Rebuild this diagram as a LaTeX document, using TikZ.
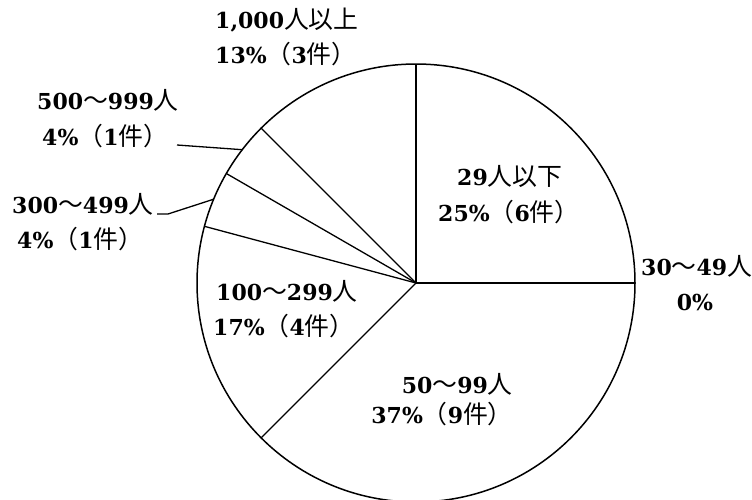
\documentclass[tikz,border=0pt]{standalone}
\usepackage{fontspec}
\usetikzlibrary{calc}
\setmainfont{DejaVu Serif}
\newfontfamily\cjkfont{Noto Sans CJK JP}[Scale=1.13]
\newcommand{\jpn}[1]{{\cjkfont\mdseries #1}}
\begin{document}
\begin{tikzpicture}[x=1pt,y=-1pt,
  lbl/.style={inner sep=0pt,font=\fontsize{22}{26}\selectfont\bfseries},
  rim/.style={line width=1.5pt},
  spoke/.style={line width=1.3pt},
  leader/.style={line width=1.3pt}]
\useasboundingbox (0,0) rectangle (752,499);
\coordinate (c) at (416,283);
\draw[rim] (c) circle[radius=219pt];
% slice boundaries
\coordinate (b90) at ($(c)+(90:219pt)$);
\coordinate (b0) at ($(c)+(0:219pt)$);
\coordinate (b225) at ($(c)+(225:219pt)$);
\coordinate (b165) at ($(c)+(165:219pt)$);
\coordinate (b150) at ($(c)+(150:219pt)$);
\coordinate (b135) at ($(c)+(135:219pt)$);
\foreach \p in {b90,b0,b225,b165,b150,b135} \draw[spoke] (c) -- (\p);
% leaders
\coordinate (p5) at ($(c)+(142.5:219pt)$);
\coordinate (p3) at ($(c)+(157.5:219pt)$);
\coordinate (q5) at (177,145);
\coordinate (q3) at (157,214);
\coordinate (k3) at (168,214);
\draw[leader] (q5) -- (p5);
\draw[leader] (q3) -- (k3) -- (p3);
% labels
\node[lbl,anchor=base west] (l1a) at (215,28) {1,000\jpn{人以上}};
\node[lbl,anchor=base west] (l1b) at (215,63) {13\%\jpn{（}3\jpn{件）}};
\node[lbl,anchor=base west] (l2a) at (37,109) {500\jpn{～}999\jpn{人}};
\node[lbl,anchor=base west] (l2b) at (42,145) {4\%\jpn{（}1\jpn{件）}};
\node[lbl,anchor=base west] (l3a) at (12,213) {300\jpn{～}499\jpn{人}};
\node[lbl,anchor=base west] (l3b) at (17,248) {4\%\jpn{（}1\jpn{件）}};
\node[lbl,anchor=base west] (l4a) at (457,185) {29\jpn{人以下}};
\node[lbl,anchor=base west] (l4b) at (438,221) {25\%\jpn{（}6\jpn{件）}};
\node[lbl,anchor=base west] (l5a) at (641,275) {30\jpn{～}49\jpn{人}};
\node[lbl,anchor=base] (l5b) at (695,310) {0\%};
\node[lbl,anchor=base west] (l6a) at (216,300) {100\jpn{～}299\jpn{人}};
\node[lbl,anchor=base west] (l6b) at (213,335) {17\%\jpn{（}4\jpn{件）}};
\node[lbl,anchor=base east] (l7a) at (513,393) {50\jpn{～}99\jpn{人}};
\node[lbl,anchor=base east] (l7b) at (513,423) {37\%\jpn{（}9\jpn{件）}};
\end{tikzpicture}
\end{document}
